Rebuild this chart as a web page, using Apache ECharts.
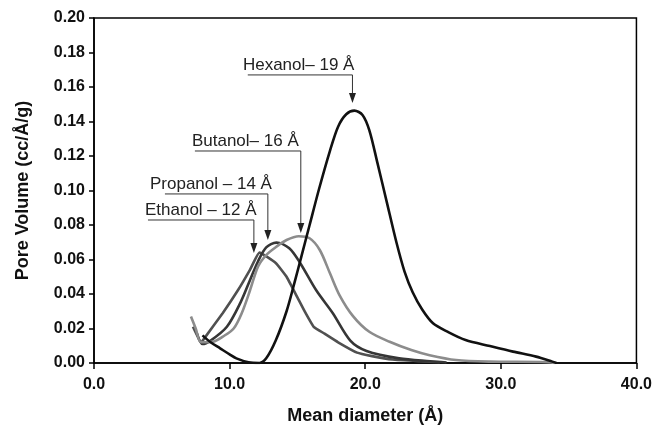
<!DOCTYPE html>
<html><head><meta charset="utf-8">
<script src="https://cdn.jsdelivr.net/npm/echarts@6/dist/echarts.min.js"></script>
<style>html,body{margin:0;padding:0;background:#fff}#c{width:655px;height:432px}</style>
</head><body><div id="c"></div>
<script>
// ---- data (x = mean diameter Å, y = pore volume cc/Å/g) ----
const ethanol = [[7.3,0.021],[7.9,0.012],[8.2,0.015],[9.5,0.029],[10.6,0.042],[11.5,0.054],[12.2,0.064],[13.4,0.058],[14.2,0.050],[15.0,0.038],[15.6,0.029],[16.2,0.021],[17.0,0.017],[18.0,0.012],[19.4,0.006],[20.5,0.004],[22.0,0.002],[24.0,0.001],[25.5,0.0004]];
const propanol = [[7.6,0.017],[8.0,0.011],[8.6,0.013],[9.8,0.021],[10.8,0.035],[11.5,0.048],[12.1,0.059],[12.7,0.067],[13.45,0.0698],[14.4,0.0665],[15.2,0.058],[16.4,0.042],[17.6,0.029],[18.9,0.013],[20.1,0.007],[22.5,0.0027],[24.8,0.001],[26.0,0.0003]];
const butanol = [[7.15,0.027],[7.5,0.02],[7.9,0.012],[8.8,0.0124],[9.5,0.0153],[10.3,0.020],[10.9,0.029],[11.5,0.042],[12.1,0.056],[12.7,0.0626],[13.45,0.0674],[14.2,0.0713],[15.1,0.0735],[15.9,0.0723],[16.65,0.0655],[17.4,0.052],[18.1,0.0394],[19.1,0.0272],[20.3,0.0181],[21.8,0.0123],[23.4,0.0075],[24.75,0.0045],[26.7,0.0017],[29.2,0.0008],[33.0,0.0006],[34.0,0]];
const hexanol = [[8.0,0.016],[8.6,0.012],[9.3,0.0085],[10.0,0.005],[10.5,0.0027],[11.4,0.0004],[12.2,0.0],[12.7,0.0027],[13.4,0.013],[14.2,0.030],[14.8,0.047],[15.3,0.062],[15.9,0.080],[16.6,0.101],[17.4,0.123],[18.0,0.137],[18.6,0.1442],[19.2,0.1463],[19.8,0.1438],[20.3,0.135],[20.9,0.116],[21.6,0.093],[22.3,0.070],[22.9,0.053],[23.5,0.041],[24.2,0.031],[25.0,0.023],[26.1,0.018],[27.4,0.0133],[29.2,0.0098],[30.9,0.0066],[32.6,0.0037],[33.8,0.0008],[34.1,0.0]];
const seriesNames = ['Ethanol','Propanol','Butanol','Hexanol'];
const labelTexts = ['Ethanol – 12 Å','Propanol – 14 Å','Butanol– 16 Å','Hexanol– 19 Å'];
// annotation anchors in data coordinates: [textLeftX, lineStartX, lineY, tipX, tipY]
const labelAnchors = [[3.76,3.98,0.0829,11.79,0.0638],[4.13,5.23,0.098,12.82,0.0713],[7.22,7.44,0.1229,15.25,0.0754],[10.98,11.34,0.167,19.06,0.1507]];
const xMin = 0, xMax = 40, xStep = 10;
const yMin = 0, yMax = 0.20, yStep = 0.02;

const FONT = '"Liberation Sans", Arial, sans-serif';
const chart = echarts.init(document.getElementById('c'), null, {renderer:'canvas'});
const colors = ['#505050','#363636','#8c8c8c','#111111'];
const dataSets = [ethanol, propanol, butanol, hexanol];
const smoothing = [0.12, 0.3, 0.3, 0.3];

chart.setOption({
  animation:false,
  backgroundColor:'#fff',
  grid:{left:94,right:18,top:18,bottom:69,show:true,borderColor:'#000',borderWidth:1.5,backgroundColor:'transparent'},
  xAxis:{type:'value',min:xMin,max:xMax,interval:xStep,
    name:'Mean diameter (Å)',nameLocation:'middle',nameGap:44,
    nameTextStyle:{fontFamily:FONT,fontWeight:'bold',fontSize:18,color:'#111'},
    axisLine:{show:true,lineStyle:{color:'#000',width:1.5}},
    axisTick:{show:true,inside:false,length:6,lineStyle:{color:'#000',width:1.5}},
    axisLabel:{fontFamily:FONT,fontWeight:'bold',fontSize:16,color:'#111',margin:14,formatter:v=>v.toFixed(1)},
    splitLine:{show:false}},
  yAxis:{type:'value',min:yMin,max:yMax,interval:yStep,
    name:'Pore Volume (cc/Å/g)',nameLocation:'middle',nameGap:62,
    nameTextStyle:{fontFamily:FONT,fontWeight:'bold',fontSize:18,color:'#111'},
    axisLine:{show:true,lineStyle:{color:'#000',width:1.5}},
    axisTick:{show:true,inside:false,length:5,lineStyle:{color:'#000',width:1.5}},
    axisLabel:{fontFamily:FONT,fontWeight:'bold',fontSize:16,color:'#111',margin:9,formatter:v=>v.toFixed(2)},
    splitLine:{show:false}},
  series: dataSets.map((d,i)=>({
    name:seriesNames[i],type:'line',data:d,showSymbol:false,smooth:smoothing[i],
    lineStyle:{color:colors[i],width:2.6},z:i===3?5:3
  }))
});

function px(p){return chart.convertToPixel({gridIndex:0},p);}
const g = [];
labelAnchors.forEach((a,i)=>{
  const t = px([a[0],a[2]]), s = px([a[1],a[2]]), c = px([a[3],a[2]]), tip = px([a[3],a[4]]);
  g.push({type:'line',shape:{x1:s[0],y1:s[1],x2:c[0],y2:c[1]},style:{stroke:'#333',lineWidth:1},z:10});
  g.push({type:'line',shape:{x1:c[0],y1:c[1],x2:tip[0],y2:tip[1]-8},style:{stroke:'#333',lineWidth:1},z:10});
  g.push({type:'polygon',shape:{points:[[tip[0],tip[1]],[tip[0]-3.5,tip[1]-10],[tip[0]+3.5,tip[1]-10]]},style:{fill:'#222'},z:10});
  g.push({type:'text',x:t[0],y:t[1]-1,style:{text:labelTexts[i],font:'17px '+FONT,fill:'#222',textAlign:'left',align:'left',textVerticalAlign:'bottom',verticalAlign:'bottom'},z:10});
});
chart.setOption({graphic:g});
</script></body></html>
